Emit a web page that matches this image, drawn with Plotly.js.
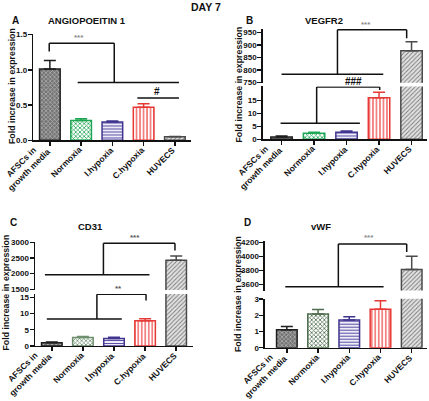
<!DOCTYPE html>
<html><head><meta charset="utf-8">
<script src="https://cdn.plot.ly/plotly-3.0.1.min.js"></script>
<style>html,body{margin:0;padding:0;background:#fff;}#chart{width:429px;height:401px;}</style>
</head><body><div id="chart"></div>
<script>
// ---- data ----
const categories = ['AFSCs in<br>growth media', 'Normoxia', 'I.hypoxia', 'C.hypoxia', 'HUVECS'];
const ang1Mean = [1.01, 0.28, 0.26, 0.47, 0.05];
const ang1Err = [0.12, 0.025, 0.015, 0.05, 0.005];
const vegfr2Mean = [0.9, 2.3, 2.7, 16.0, 876];
const vegfr2Err = [0.4, 0.4, 0.5, 2.1, 36];
const cd31Mean = [1.0, 2.6, 2.3, 7.8, 2425];
const cd31Err = [0.2, 0.3, 0.4, 0.6, 135];
const vwfMean = [1.1, 2.07, 1.71, 2.37, 3810];
const vwfErr = [0.2, 0.29, 0.2, 0.52, 190];

const ticksA = [0, 0.5, 1.0, 1.5];
const tickTextA = ['0.0', '0.5', '1.0', '1.5'];
const ticksBLow = [0, 5, 10, 15];
const ticksBUp = [750, 800, 850, 900, 950];
const ticksCLow = [0, 5, 10, 15];
const ticksCUp = [1500, 2000, 2500, 3000];
const ticksDLow = [0, 1, 2, 3];
const ticksDUp = [3600, 3800, 4000, 4200];

// ---- styles ----
const FONT = 'Liberation Sans, Arial, sans-serif';
const INK = '#111';
const baseStyles = [
  {line: '#1e1e1e', fg: '#b0b0b0', bg: '#747474', shape: 'x', size: 3, solidity: 0.45},
  {line: '#1ea552', fg: '#1ea552', bg: '#ffffff', shape: 'x', size: 3, solidity: 0.45},
  {line: '#3f3590', fg: '#5a4fa8', bg: '#ffffff', shape: '-', size: 3, solidity: 0.4},
  {line: '#e53935', fg: '#ef4a48', bg: '#ffffff', shape: '|', size: 3.5, solidity: 0.35},
  {line: '#4a4a4a', fg: '#7a7a7a', bg: '#e2e2e2', shape: '/', size: 3, solidity: 0.3}
];
const normoxiaColor = {x: '#1ea552', x2: '#20a858', x3: '#6d8f6d', x4: '#4f6e4f'};

const traces = [];
function addBars(xa, ya, means, errs, idxs) {
  idxs.forEach(i => {
    const s = Object.assign({}, baseStyles[i]);
    if (i === 1) { s.line = normoxiaColor[xa]; s.fg = normoxiaColor[xa]; }
    traces.push({
      type: 'bar', x: [categories[i]], y: [means[i]], xaxis: xa, yaxis: ya,
      width: 0.66, showlegend: false, hoverinfo: 'skip',
      marker: {
        color: s.bg,
        line: {color: s.line, width: 1.5},
        pattern: {shape: s.shape, size: s.size, solidity: s.solidity, fgcolor: s.fg, bgcolor: s.bg}
      },
      error_y: {type: 'data', symmetric: false, array: [errs[i]], arrayminus: [0],
        color: s.line, thickness: 1.5, width: 6}
    });
  });
}
const all = [0, 1, 2, 3, 4];
addBars('x', 'y', ang1Mean, ang1Err, all);
addBars('x2', 'y2', vegfr2Mean, vegfr2Err, all);
addBars('x2', 'y3', vegfr2Mean, vegfr2Err, [4]);
addBars('x3', 'y4', cd31Mean, cd31Err, all);
addBars('x3', 'y5', cd31Mean, cd31Err, [4]);
addBars('x4', 'y6', vwfMean, vwfErr, all);
addBars('x4', 'y7', vwfMean, vwfErr, [4]);

function tickFont(size) { return {family: FONT, size: size || 8, weight: 'bold', color: INK}; }
function xAx(domain, range, anchor) {
  return {domain, range, anchor, type: 'category', categoryorder: 'array', categoryarray: categories,
    showline: true, linewidth: 1.5, linecolor: INK, ticks: 'outside', ticklen: 4, tickwidth: 1.5,
    tickcolor: INK, showgrid: false, zeroline: false, showticklabels: false, fixedrange: true};
}
function yAx(domain, range, tickvals, anchor, ticktext) {
  const a = {domain, range, anchor, tickvals, showline: true, linewidth: 1.5, linecolor: INK,
    ticks: 'outside', ticklen: 4, tickwidth: 1.5, tickcolor: INK, showgrid: false, zeroline: false,
    tickfont: tickFont(8), ticklabelstandoff: -1, fixedrange: true};
  if (ticktext) a.ticktext = ticktext;
  return a;
}

const shapes = [];
function poly(xa, ya, pts) {
  for (let k = 0; k < pts.length - 1; k++) {
    shapes.push({type: 'line', xref: xa, yref: ya, x0: pts[k][0], y0: pts[k][1],
      x1: pts[k + 1][0], y1: pts[k + 1][1], line: {color: INK, width: 1.5}});
  }
}
// panel A
poly('x', 'y', [[-0.02, 1.26], [-0.02, 1.376], [2.06, 1.376], [2.06, 0.82]]);
poly('x', 'y', [[0.89, 0.82], [4.13, 0.82]]);
poly('x', 'y', [[2.8, 0.60], [4.13, 0.60]]);
// panel B
poly('x2', 'y3', [[1.72, 782], [1.72, 960], [3.85, 960], [3.85, 926]]);
poly('x2', 'y3', [[0, 782], [3.13, 782]]);
poly('x2', 'y2', [[1.08, 6.2], [1.08, 20.1], [3.02, 20.1], [3.02, 19.0]]);
poly('x2', 'y2', [[-0.03, 6.2], [2.41, 6.2]]);
// panel C
poly('x3', 'y5', [[1.66, 1965], [1.66, 2968], [3.96, 2968], [3.96, 2735]]);
poly('x3', 'y5', [[-0.22, 1965], [3.14, 1965]]);
poly('x3', 'y4', [[1.45, 8.3], [1.45, 15.9], [3.03, 15.9], [3.03, 14.0]]);
poly('x3', 'y4', [[-0.16, 8.3], [2.25, 8.3]]);
// panel D
poly('x4', 'y7', [[1.65, 3566], [1.65, 4175], [3.84, 4175], [3.84, 4060]]);
poly('x4', 'y7', [[-0.05, 3566], [3.1, 3566]]);

const annotations = [];
function sig(xa, ya, x, y, text, color, size, yshift) {
  annotations.push({xref: xa, yref: ya, x, y, text, showarrow: false, yanchor: 'bottom', xanchor: 'center',
    yshift: yshift || 0, font: {family: FONT, size: size, weight: 'bold', color: color}});
}
sig('x', 'y', 0.93, 1.376, '***', '#8a8a8a', 8, -1);
sig('x', 'y', 3.43, 0.60, '#', INK, 10, -1);
sig('x2', 'y3', 2.6, 960, '***', '#8a8a8a', 8, -1);
sig('x2', 'y2', 2.22, 20.1, '###', INK, 10, -2);
sig('x3', 'y5', 2.68, 2968, '***', '#555', 8, -1);
sig('x3', 'y4', 2.14, 15.9, '**', '#555', 8, -1);
sig('x4', 'y7', 2.62, 4175, '***', '#8a8a8a', 8, 0);

// rotated category labels (centre-aligned lines, block ending at the tick)
function xLabels(xa, ya) {
  categories.forEach((c, i) => {
    const multi = c.indexOf('<br>') >= 0;
    annotations.push({xref: xa, yref: ya, x: i, y: 0, text: c, showarrow: false, textangle: -45,
      xanchor: 'right', yanchor: 'top', align: 'center', borderpad: 0,
      xshift: 4, yshift: multi ? 3.8 : -3.3, font: tickFont(8.5)});
  });
}
xLabels('x', 'y');
xLabels('x2', 'y2');
xLabels('x3', 'y4');
xLabels('x4', 'y6');

function paperText(px, py, text, size, angle) {
  annotations.push({xref: 'paper', yref: 'paper', x: px / 429, y: 1 - py / 401, text, showarrow: false,
    xanchor: 'center', yanchor: 'middle', textangle: angle || 0,
    font: {family: FONT, size: size, weight: 'bold', color: INK}});
}
paperText(205.5, 7, 'DAY 7', 10.5);
paperText(15, 20, 'A', 10);
paperText(249, 20, 'B', 10);
paperText(13, 222.5, 'C', 10);
paperText(247, 222.5, 'D', 10);
paperText(86.5, 20.7, 'ANGIOPOEITIN 1', 9.5);
paperText(324, 20.5, 'VEGFR2', 9.5);
paperText(90, 226.7, 'CD31', 9.5);
paperText(320.7, 226.7, 'vWF', 9.5);
paperText(12, 86, 'Fold increase in expression', 8.8, -90);
paperText(238.5, 85, 'Fold increase in expression', 8.8, -90);
paperText(5.5, 293, 'Fold increase in expression', 8.8, -90);
paperText(238, 294, 'Fold increase in expression', 8.8, -90);

const layout = {
  width: 429, height: 401, margin: {l: 0, r: 0, t: 0, b: 0},
  paper_bgcolor: '#fff', plot_bgcolor: 'rgba(0,0,0,0)',
  barmode: 'overlay', showlegend: false, font: {family: FONT},
  xaxis: xAx([0.0776, 0.4441], [-0.53, 4.5], 'y'),
  yaxis: yAx([0.6501, 0.9140], [0, 1.5], ticksA, 'x', tickTextA),
  xaxis2: xAx([0.6124, 0.9949], [-0.58, 4.47], 'y2'),
  yaxis2: yAx([0.6526, 0.7843], [0, 20.3], ticksBLow, 'x2'),
  yaxis3: yAx([0.7935, 0.9288], [748, 965], ticksBUp, 'x2'),
  xaxis3: xAx([0.0816, 0.4506], [-0.54, 4.55], 'y4'),
  yaxis4: yAx([0.1372, 0.2668], [0, 16], ticksCLow, 'x3'),
  yaxis5: yAx([0.2771, 0.3973], [1480, 3020], ticksCUp, 'x3'),
  xaxis4: xAx([0.6177, 0.9946], [-0.7, 4.48], 'y6'),
  yaxis6: yAx([0.1329, 0.2551], [0, 3.02], ticksDLow, 'x4'),
  yaxis7: yAx([0.2753, 0.4001], [3510, 4225], ticksDUp, 'x4'),
  shapes, annotations
};

Plotly.newPlot('chart', traces, layout, {staticPlot: true, displayModeBar: false});
</script>
</body></html>
